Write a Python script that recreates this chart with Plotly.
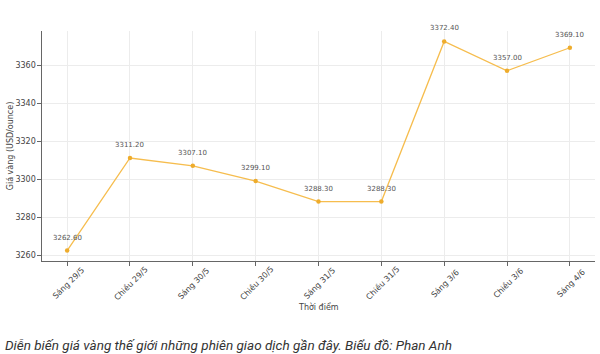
import plotly.graph_objects as go

categories = ["Sáng 29/5", "Chiều 29/5", "Sáng 30/5", "Chiều 30/5", "Sáng 31/5",
              "Chiều 31/5", "Sáng 3/6", "Chiều 3/6", "Sáng 4/6"]
prices = [3262.60, 3311.20, 3307.10, 3299.10, 3288.30, 3288.30, 3372.40, 3357.00, 3369.10]
y_ticks = [3260, 3280, 3300, 3320, 3340, 3360]
caption = "Diễn biến giá vàng thế giới những phiên giao dịch gần đây. Biểu đồ: Phan Anh"

x_idx = list(range(len(categories)))
labels = [f"{v:.2f}" for v in prices]

fig = go.Figure()
fig.add_trace(go.Scatter(
    x=x_idx, y=prices, mode="lines+markers",
    line=dict(color="#f6bd4e", width=1.3),
    marker=dict(color="#eeac2c", size=4.5),
    cliponaxis=False, hoverinfo="skip",
))

# value labels above points
for xi, v, lab in zip(x_idx, prices, labels):
    fig.add_annotation(
        x=xi, y=v, text=lab, showarrow=False,
        yshift=13, xanchor="center", yanchor="middle",
        font=dict(family="DejaVu Sans", size=7, color="#555555"),
    )

# rotated category labels centred under ticks
for xi, cat in zip(x_idx, categories):
    fig.add_annotation(
        x=xi, xref="x", y=0, yref="paper", text=cat, showarrow=False,
        textangle=-45, xanchor="center", yanchor="middle",
        yshift=-22, xshift=1,
        font=dict(family="DejaVu Sans", size=8, color="#444444"),
    )

fig.add_annotation(
    x=0.5, xref="paper", y=0, yref="paper", text="Thời điểm", showarrow=False,
    xanchor="center", yanchor="middle", yshift=-46,
    font=dict(family="DejaVu Sans", size=8, color="#444444"),
)

pad_y = (max(prices) - min(prices)) * 0.05
fig.update_layout(
    width=600, height=354,
    margin=dict(l=42, r=5, t=31, b=93),
    paper_bgcolor="white", plot_bgcolor="white",
    showlegend=False,
    font=dict(family="DejaVu Sans", size=8, color="#444444"),
    xaxis=dict(
        range=[-0.4, len(categories) - 1 + 0.4],
        tickmode="array", tickvals=x_idx, showticklabels=False,
        showgrid=True, gridcolor="#ececec", gridwidth=1,
        showline=True, linecolor="#666666", linewidth=1.2,
        ticks="outside", ticklen=3.5, tickcolor="#666666",
        zeroline=False,
    ),
    yaxis=dict(
        range=[min(prices) - pad_y, max(prices) + pad_y],
        tickmode="array", tickvals=y_ticks,
        tickfont=dict(size=8, color="#444444"),
        showgrid=True, gridcolor="#ececec", gridwidth=1,
        showline=True, linecolor="#666666", linewidth=1.2,
        ticks="outside", ticklen=3.5, tickcolor="#666666",
        zeroline=False,
        title=dict(text="Giá vàng (USD/ounce)", font=dict(size=8, color="#444444"), standoff=0),
    ),
)

fig.add_annotation(
    text="<i>" + caption + "</i>", xref="paper", yref="paper",
    x=0, y=0, xshift=-42 + 3, yshift=-(345 - 261),
    xanchor="left", yanchor="middle", showarrow=False,
    font=dict(family="Roboto", size=13.5, color="#333333"),
)

fig.write_html("out.html")
